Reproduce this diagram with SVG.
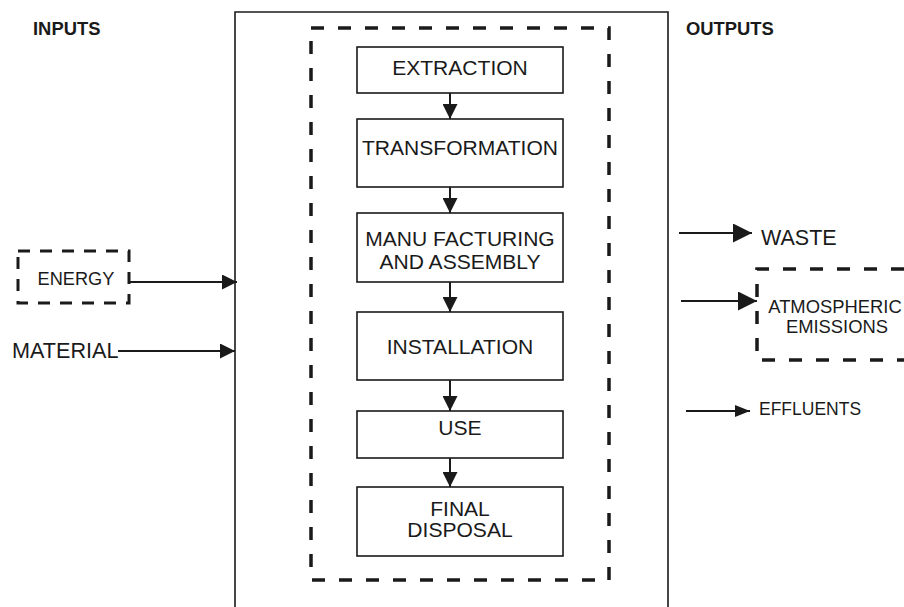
<svg xmlns="http://www.w3.org/2000/svg" width="904" height="607" viewBox="0 0 904 607">
<style>
text{font-family:"Liberation Sans",Arial,sans-serif;fill:#1a1a1a}
.h{font-weight:bold;font-size:18.4px}
.t{font-size:19.5px;text-anchor:middle}
.s{font-size:18.4px;text-anchor:middle}
.box{fill:#fff;stroke:#1a1a1a;stroke-width:1.6}
.dash{fill:none;stroke:#1a1a1a;stroke-width:3.5;stroke-dasharray:13 14}
.edge{stroke:#1a1a1a;stroke-width:2;fill:none}
</style>
<defs>
<marker id="a" markerUnits="userSpaceOnUse" markerWidth="15" markerHeight="15" refX="15" refY="7.5" orient="auto"><path d="M0,0 L15,7.5 L0,15 z" fill="#1a1a1a"/></marker>
<marker id="b" markerUnits="userSpaceOnUse" markerWidth="19" markerHeight="19" refX="19" refY="9.5" orient="auto"><path d="M0,0 L19,9.5 L0,19 z" fill="#1a1a1a"/></marker>
<marker id="c" markerUnits="userSpaceOnUse" markerWidth="15" markerHeight="12" refX="15" refY="6" orient="auto"><path d="M0,0 L15,6 L0,12 z" fill="#1a1a1a"/></marker>
</defs>
<rect width="904" height="607" fill="#fff"/>
<g id="system">
<path d="M235,607 V12 H668 V607" fill="none" stroke="#1a1a1a" stroke-width="1.6"/>
<rect x="311" y="28" width="298" height="552" class="dash"/>
</g>
<text class="h" x="33" y="35">INPUTS</text>
<text class="h" x="686" y="35">OUTPUTS</text>
<g id="extraction"><rect class="box" x="357" y="47" width="206" height="46"/><text class="t" transform="translate(460,0) scale(1.08,1)" x="0" y="75">EXTRACTION</text></g>
<g id="transformation"><rect class="box" x="357" y="119" width="206" height="68"/><text class="t" transform="translate(460,0) scale(1.08,1)" x="0" y="155">TRANSFORMATION</text></g>
<g id="manufacturing"><rect class="box" x="357" y="213" width="206" height="69"/><text class="t" transform="translate(460,0) scale(1.08,1)" x="0" y="246">MANU FACTURING</text><text class="t" transform="translate(460,0) scale(1.08,1)" x="0" y="269">AND ASSEMBLY</text></g>
<g id="installation"><rect class="box" x="357" y="312" width="206" height="68"/><text class="t" transform="translate(460,0) scale(1.08,1)" x="0" y="354">INSTALLATION</text></g>
<g id="use"><rect class="box" x="357" y="411" width="206" height="47"/><text class="t" transform="translate(460,0) scale(1.08,1)" x="0" y="435">USE</text></g>
<g id="disposal"><rect class="box" x="357" y="487" width="206" height="69"/><text class="t" transform="translate(460,0) scale(1.08,1)" x="0" y="516.5">FINAL</text><text class="t" transform="translate(460,0) scale(1.08,1)" x="0" y="537">DISPOSAL</text></g>
<g id="energy"><rect x="18" y="251" width="111" height="52" fill="none" stroke="#1a1a1a" stroke-width="3" stroke-dasharray="12 10"/><text class="s" x="76" y="285" style="font-size:18.2px">ENERGY</text></g>
<g id="material"><text x="12" y="358" style="font-size:21.6px">MATERIAL</text></g>
<g id="waste"><text x="761" y="245" style="font-size:21.5px">WASTE</text></g>
<g id="atmospheric"><path d="M904,269 H757 V360 H904" class="dash"/><text class="s" x="835" y="313">ATMOSPHERIC</text><text class="s" x="837" y="333">EMISSIONS</text></g>
<g id="effluents"><text x="759" y="415" style="font-size:17.5px">EFFLUENTS</text></g>
<g id="connectors">
<line class="edge" x1="450" y1="93" x2="450" y2="119" marker-end="url(#a)"/>
<line class="edge" x1="450" y1="187" x2="450" y2="213" marker-end="url(#a)"/>
<line class="edge" x1="450" y1="282" x2="450" y2="312" marker-end="url(#a)"/>
<line class="edge" x1="450" y1="380" x2="450" y2="411" marker-end="url(#a)"/>
<line class="edge" x1="450" y1="458" x2="450" y2="487" marker-end="url(#a)"/>
<line class="edge" x1="129" y1="282" x2="237" y2="282" marker-end="url(#a)"/>
<line class="edge" x1="118" y1="351" x2="235" y2="351" marker-end="url(#a)"/>
<line class="edge" x1="679" y1="233" x2="752" y2="233" marker-end="url(#b)"/>
<line class="edge" x1="681" y1="301" x2="757" y2="301" marker-end="url(#b)"/>
<line class="edge" x1="686" y1="411" x2="750" y2="411" marker-end="url(#c)"/>
</g>
</svg>
